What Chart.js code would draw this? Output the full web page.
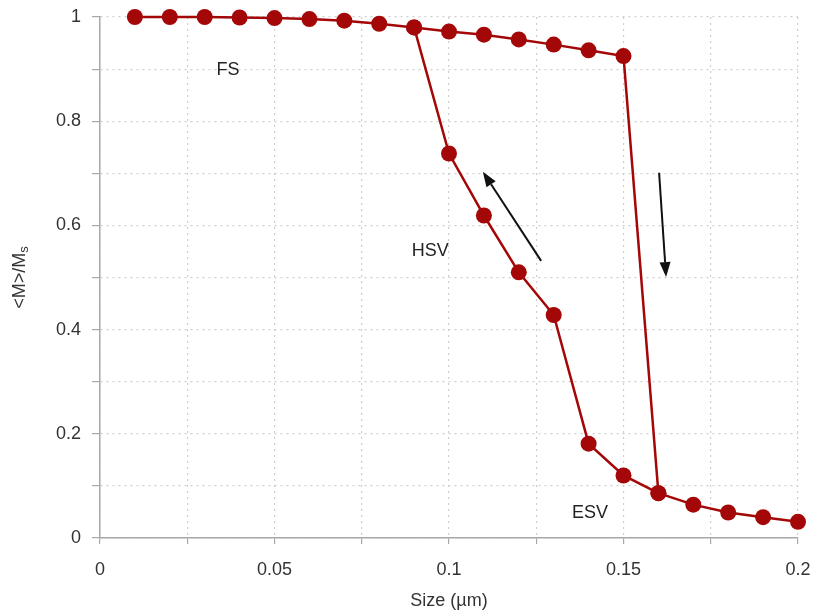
<!DOCTYPE html>
<html>
<head>
<meta charset="utf-8">
<script src="https://cdn.jsdelivr.net/npm/chart.js@4/dist/chart.umd.min.js"></script>
<style>
    html, body { margin: 0; padding: 0; background: #fff; }
    #wrap { width: 820px; height: 612px; }
</style>
</head>
<body>
<div id="wrap"><canvas id="chart" width="820" height="612"></canvas></div>
<script>
// Sizes (µm) and <M>/Ms
const fsSize = [0.01, 0.02, 0.03, 0.04, 0.05, 0.06, 0.07, 0.08, 0.09, 0.10, 0.11, 0.12, 0.13, 0.14, 0.15, 0.16, 0.17, 0.18, 0.19, 0.20];
const fsMag = [1.0, 1.0, 1.0, 0.999, 0.998, 0.996, 0.993, 0.987, 0.980, 0.972, 0.966, 0.957, 0.947, 0.936, 0.925, 0.086, 0.064, 0.049, 0.040, 0.031];
const hsvSize = [0.09, 0.10, 0.11, 0.12, 0.13, 0.14, 0.15, 0.16];
const hsvMag = [0.980, 0.738, 0.619, 0.510, 0.428, 0.181, 0.120, 0.086];
const xTicks = [0, 0.05, 0.1, 0.15, 0.2];
const yTicks = [0, 0.2, 0.4, 0.6, 0.8, 1];
// labels and arrows, in data units
const labels = [
    { text: "FS", x: 0.0367, y: 0.898 },
    { text: "HSV", x: 0.0946, y: 0.551 },
    { text: "ESV", x: 0.1404, y: 0.048 }
];
const arrows = [
    { x0: 0.1264, y0: 0.532, x1: 0.1097, y1: 0.703 },
    { x0: 0.1602, y0: 0.701, x1: 0.1622, y1: 0.501 }
];

const red = "#a40707";
const font = "'Liberation Sans', Arial, sans-serif";
const textColor = "#333";

function toPoints(xs, ys) {
    return xs.map((x, i) => ({ x: x, y: ys[i] }));
}
function isOn(v, list) {
    return list.some(t => Math.abs(t - v) < 1e-6);
}

// Text labels, arrows and the y axis title with a subscript
const annotations = {
    id: "annotations",
    afterDatasetsDraw(chart) {
        const ctx = chart.ctx;
        const xs = chart.scales.x, ys = chart.scales.y;
        ctx.save();
        ctx.fillStyle = "#222";
        ctx.font = "18px " + font;
        ctx.textAlign = "center";
        ctx.textBaseline = "middle";
        labels.forEach(l => ctx.fillText(l.text, xs.getPixelForValue(l.x), ys.getPixelForValue(l.y)));

        ctx.strokeStyle = "#111";
        ctx.fillStyle = "#111";
        ctx.lineWidth = 2;
        arrows.forEach(a => {
            const x0 = xs.getPixelForValue(a.x0), y0 = ys.getPixelForValue(a.y0);
            const x1 = xs.getPixelForValue(a.x1), y1 = ys.getPixelForValue(a.y1);
            const ang = Math.atan2(y1 - y0, x1 - x0);
            const len = 15, half = 5.5;
            const bx = x1 - len * Math.cos(ang), by = y1 - len * Math.sin(ang);
            ctx.beginPath();
            ctx.moveTo(x0, y0);
            ctx.lineTo(bx, by);
            ctx.stroke();
            ctx.beginPath();
            ctx.moveTo(x1, y1);
            ctx.lineTo(bx + half * Math.sin(ang), by - half * Math.cos(ang));
            ctx.lineTo(bx - half * Math.sin(ang), by + half * Math.cos(ang));
            ctx.closePath();
            ctx.fill();
        });

        // y title
        const cy = (chart.chartArea.top + chart.chartArea.bottom) / 2;
        ctx.translate(20, cy);
        ctx.rotate(-Math.PI / 2);
        ctx.fillStyle = textColor;
        ctx.font = "18px " + font;
        ctx.textAlign = "left";
        const main = "<M>/M";
        const w1 = ctx.measureText(main).width;
        ctx.font = "13px " + font;
        const w2 = ctx.measureText("s").width;
        const start = -(w1 + w2) / 2;
        ctx.font = "18px " + font;
        ctx.fillText(main, start, 0);
        ctx.font = "13px " + font;
        ctx.fillText("s", start + w1, 4);
        ctx.restore();
    }
};

new Chart(document.getElementById("chart").getContext("2d"), {
    type: "line",
    data: {
        datasets: [{
            data: toPoints(fsSize, fsMag),
            borderColor: red,
            backgroundColor: red,
            borderWidth: 2.5,
            pointRadius: 8,
            pointBorderWidth: 0,
            pointBackgroundColor: red,
            tension: 0,
            clip: false
        }, {
            data: toPoints(hsvSize, hsvMag),
            borderColor: red,
            backgroundColor: red,
            borderWidth: 2.5,
            pointRadius: 8,
            pointBorderWidth: 0,
            pointBackgroundColor: red,
            tension: 0,
            clip: false
        }]
    },
    options: {
        responsive: false,
        animation: false,
        layout: { padding: { left: 0, right: 22, top: 17, bottom: 0 } },
        plugins: {
            legend: { display: false },
            tooltip: { enabled: false }
        },
        scales: {
            x: {
                type: "linear",
                min: 0,
                max: 0.2,
                afterFit: scale => {
                    scale.height = 74;
                    scale.paddingLeft = 0;
                    scale.paddingRight = 0;
                },
                grid: {
                    color: "#cfcfcf",
                    lineWidth: 1.2,
                    tickColor: "#a8a8a8",
                    tickLength: 6,
                    tickBorderDash: []
                },
                border: { display: true, color: "#a8a8a8", width: 1.5, dash: [2, 4] },
                ticks: {
                    stepSize: 0.025,
                    autoSkip: false,
                    maxRotation: 0,
                    padding: 15,
                    color: textColor,
                    font: { family: font, size: 18 },
                    callback: v => isOn(v, xTicks) ? String(Math.round(v * 1000) / 1000) : ""
                },
                title: {
                    display: true,
                    text: "Size (µm)",
                    color: textColor,
                    font: { family: font, size: 18 },
                    padding: { top: 0, bottom: 0 }
                }
            },
            y: {
                type: "linear",
                min: 0,
                max: 1,
                afterFit: scale => {
                    scale.width = 100;
                    scale.paddingTop = 0;
                    scale.paddingBottom = 0;
                },
                grid: {
                    color: "#cfcfcf",
                    lineWidth: 1.2,
                    tickColor: "#a8a8a8",
                    tickLength: 8,
                    tickBorderDash: []
                },
                border: { display: true, color: "#a8a8a8", width: 1.5, dash: [2, 4] },
                ticks: {
                    stepSize: 0.1,
                    autoSkip: false,
                    padding: 11,
                    color: textColor,
                    font: { family: font, size: 18 },
                    callback: v => isOn(v, yTicks) ? String(Math.round(v * 10) / 10) : ""
                }
            }
        }
    },
    plugins: [annotations]
});
</script>
</body>
</html>
